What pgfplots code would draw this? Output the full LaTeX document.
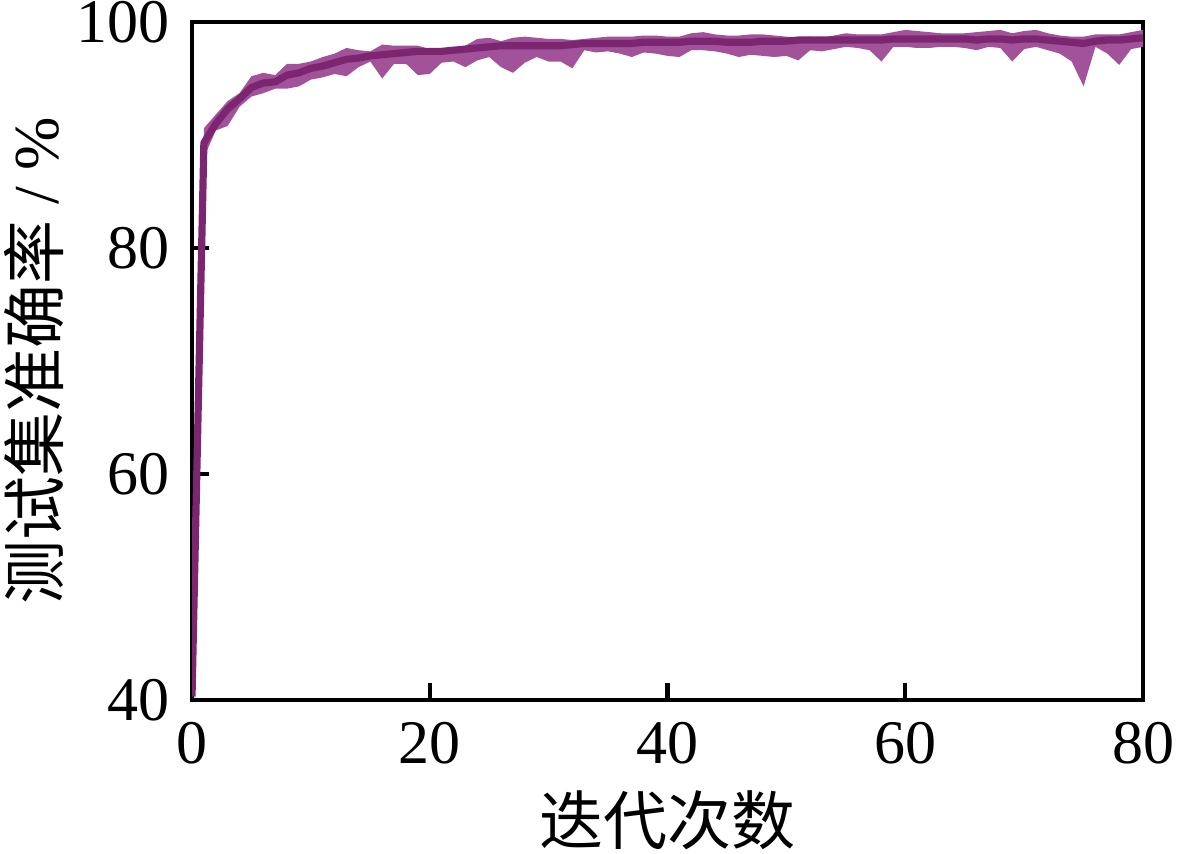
\documentclass[border=0pt]{standalone}
\usepackage{fontspec}
\setmainfont{Liberation Serif}
\newfontfamily\cjk{Noto Sans CJK SC}
\usepackage{pgfplots}
\pgfplotsset{compat=1.18}
\usepgfplotslibrary{fillbetween}
\definecolor{linecol}{RGB}{124,38,114}
\definecolor{fillcol}{RGB}{162,82,152}
\begin{document}
\begin{tikzpicture}
\begin{axis}[
  scale only axis, width=237.75pt, height=169.5pt,
  xmin=0, xmax=80, ymin=40, ymax=100,
  xtick={0,20,40,60,80}, ytick={40,60,80,100},
  tick align=inside, xtick pos=bottom, ytick pos=left,
  major tick length=4.25pt,
  every tick/.style={black, line width=1.1pt},
  axis line style={line width=1.2pt, black},
  /pgf/number format/assume math mode=true,
  ticklabel style={font=\fontsize{15.5}{18}\selectfont},
  yticklabel style={xshift=-2pt},
  xticklabel style={yshift=-2pt},
  xlabel={\cjk 迭代次数},
  ylabel={{\cjk 测试集准确率} / \%},
  label style={font=\fontsize{16}{19}\selectfont},
  xlabel style={at={(axis description cs:0.5,0)}, anchor=center, yshift=-30pt},
  ylabel style={at={(axis description cs:0,0.5)}, anchor=center, yshift=39.5pt},
  clip=true,
]
\coordinate (ll) at (rel axis cs:0,0);
\coordinate (ur) at (rel axis cs:1,1);
\addplot[draw=none, name path=U, forget plot] table[x=e, y=u] {
e u
0 41.5
1 90.6
2 91.8
3 93.0
4 93.7
5 95.2
6 95.5
7 95.3
8 96.3
9 96.3
10 96.5
11 96.9
12 97.2
13 97.7
14 97.5
15 97.4
16 98.0
17 97.9
18 97.9
19 97.9
20 97.6
21 97.6
22 97.6
23 97.9
24 98.5
25 98.6
26 98.3
27 98.6
28 98.7
29 98.6
30 98.5
31 98.5
32 98.4
33 98.5
34 98.6
35 98.7
36 98.7
37 98.7
38 98.8
39 98.8
40 98.7
41 98.7
42 99.0
43 99.1
44 98.9
45 98.8
46 98.8
47 98.9
48 98.9
49 98.8
50 98.7
51 98.6
52 98.7
53 98.6
54 98.8
55 99.0
56 98.9
57 98.9
58 98.9
59 99.1
60 99.3
61 99.2
62 99.1
63 99.0
64 99.0
65 99.0
66 99.1
67 99.2
68 99.3
69 99.0
70 99.2
71 99.3
72 99.0
73 98.8
74 98.7
75 98.7
76 98.9
77 98.9
78 98.9
79 99.1
80 99.3
};
\addplot[draw=none, name path=L, forget plot] table[x=e, y=l] {
e l
0 40.0
1 88.0
2 90.4
3 90.8
4 92.5
5 93.4
6 93.7
7 94.1
8 94.1
9 94.3
10 94.9
11 95.1
12 95.4
13 95.2
14 96.0
15 96.5
16 95.0
17 96.3
18 96.3
19 95.3
20 95.4
21 96.4
22 96.5
23 96.0
24 96.6
25 96.9
26 96.0
27 95.5
28 96.4
29 96.9
30 96.5
31 96.5
32 95.9
33 97.5
34 97.3
35 97.4
36 97.2
37 96.9
38 97.3
39 97.2
40 97.0
41 96.9
42 97.5
43 97.5
44 97.4
45 97.2
46 96.9
47 97.1
48 97.0
49 96.9
50 97.0
51 96.6
52 97.5
53 97.4
54 97.6
55 97.8
56 97.7
57 97.5
58 96.5
59 97.8
60 97.8
61 97.7
62 97.7
63 97.8
64 97.8
65 97.7
66 97.5
67 97.8
68 97.7
69 96.5
70 97.6
71 97.8
72 97.5
73 97.2
74 96.5
75 94.3
76 97.8
77 97.2
78 96.2
79 97.6
80 97.8
};
\addplot[fillcol, draw=none, forget plot] fill between[of=U and L];
\addplot[linecol, line width=1.8pt, line join=round] table[x=e, y=m] {
e m
0 40.3
1 89.3
2 91.0
3 92.3
4 93.2
5 94.2
6 94.6
7 94.7
8 95.3
9 95.5
10 95.9
11 96.1
12 96.4
13 96.7
14 96.8
15 97.0
16 97.1
17 97.2
18 97.3
19 97.4
20 97.4
21 97.4
22 97.5
23 97.6
24 97.7
25 97.8
26 97.9
27 97.9
28 97.9
29 97.9
30 97.9
31 97.9
32 98.0
33 98.1
34 98.1
35 98.1
36 98.1
37 98.1
38 98.2
39 98.2
40 98.2
41 98.2
42 98.3
43 98.3
44 98.3
45 98.2
46 98.2
47 98.2
48 98.3
49 98.3
50 98.3
51 98.4
52 98.4
53 98.4
54 98.4
55 98.4
56 98.4
57 98.4
58 98.4
59 98.5
60 98.5
61 98.5
62 98.5
63 98.5
64 98.5
65 98.5
66 98.4
67 98.5
68 98.5
69 98.4
70 98.5
71 98.5
72 98.4
73 98.3
74 98.2
75 98.1
76 98.3
77 98.4
78 98.4
79 98.5
80 98.6
};
\end{axis}
\pgfresetboundingbox
\path ([shift={(-48pt,-38.5pt)}]ll) rectangle ([shift={(10pt,5.5pt)}]ur);
\end{tikzpicture}
\end{document}
